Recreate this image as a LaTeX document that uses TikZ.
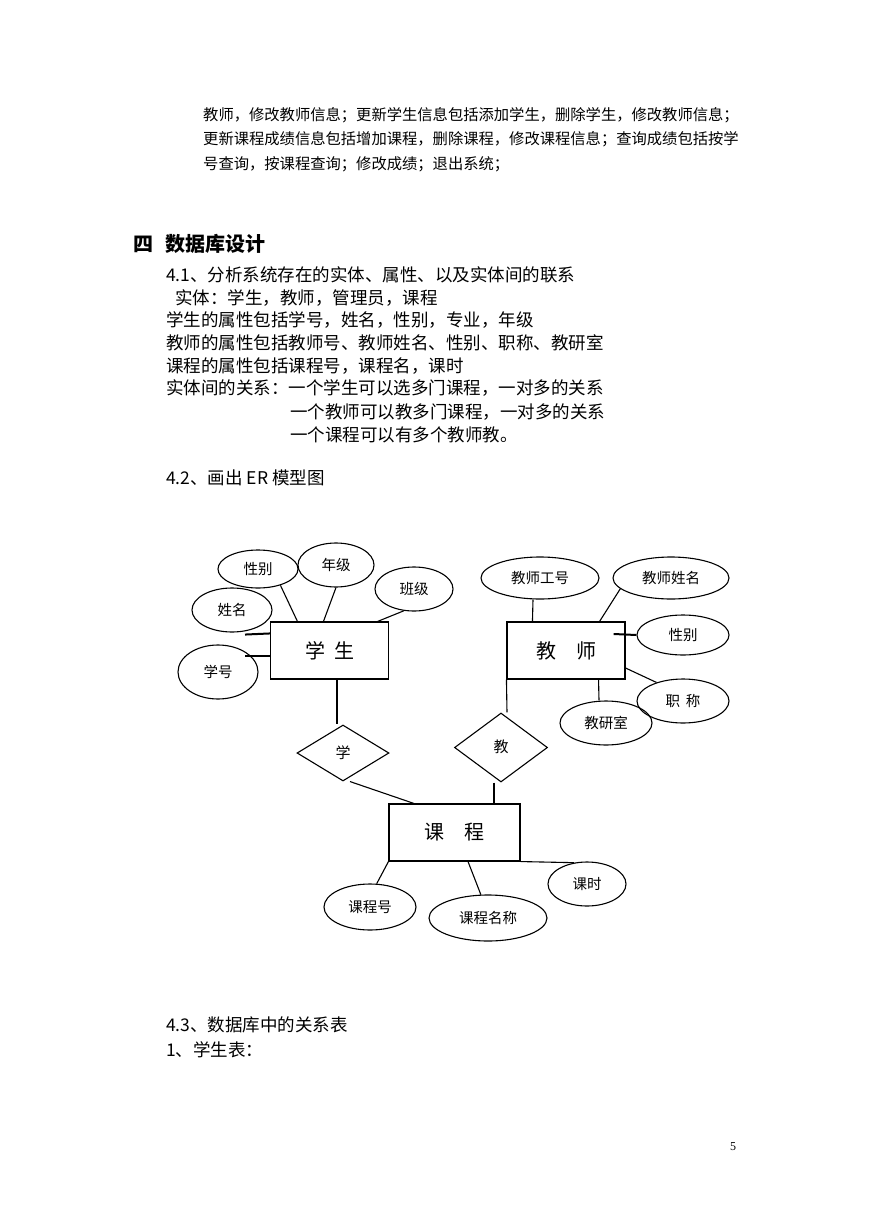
\documentclass[tikz,border=0pt]{standalone}
\usepackage{fontspec}
\setmainfont{Noto Sans CJK SC}
\newfontfamily\pagefont{Liberation Serif}
\usetikzlibrary{shapes.geometric}

\begin{document}
\begin{tikzpicture}[x=1pt,y=-1pt,
  para/.style={anchor=base west,inner sep=0pt,font=\fontsize{15.3}{18}\selectfont},
  body/.style={anchor=base west,inner sep=0pt,font=\fontsize{17.5}{21}\selectfont},
  ent/.style={draw,line width=1.1pt,minimum width=118pt,minimum height=57pt,inner sep=0pt,font=\fontsize{20}{24}\selectfont},
  attr/.style={draw,ellipse,line width=1.1pt,inner sep=0pt,font=\fontsize{14.5}{17}\selectfont},
  rel/.style={draw,diamond,line width=1.1pt,inner sep=0pt,font=\fontsize{15}{18}\selectfont},
  ln/.style={line width=1.1pt},
  thk/.style={line width=2pt}]
\path[fill=white] (0,0) rectangle (869,1228);

% text above the diagram
\node[para] (p1) at (203,121) {教师，修改教师信息；更新学生信息包括添加学生，删除学生，修改教师信息；};
\node[para] (p2) at (203,145) {更新课程成绩信息包括增加课程，删除课程，修改课程信息；查询成绩包括按学};
\node[para] (p3) at (203,169) {号查询，按课程查询；修改成绩；退出系统；};
\node[anchor=base west,inner sep=0pt,font=\fontsize{20}{24}\selectfont\bfseries] (sec) at (133,251) {四\hspace{12pt}数据库设计};
\node[body] (b1) at (166,281.6) {4.1、分析系统存在的实体、属性、以及实体间的联系};
\node[body] (b2) at (175,304.6) {实体：学生，教师，管理员，课程};
\node[body] (b3) at (166,326.6) {学生的属性包括学号，姓名，性别，专业，年级};
\node[body] (b4) at (166,349.6) {教师的属性包括教师号、教师姓名、性别、职称、教研室};
\node[body] (b5) at (166,372.6) {课程的属性包括课程号，课程名，课时};
\node[body] (b6) at (166,394.6) {实体间的关系：一个学生可以选多门课程，一对多的关系};
\node[body] (b7) at (290,418.6) {一个教师可以教多门课程，一对多的关系};
\node[body] (b8) at (290,441.6) {一个课程可以有多个教师教。};
\node[body] (b9) at (166,484.6) {4.2、画出 ER 模型图};

% entities
\node[ent] (stu) at (329.5,650.5) {学\hspace{9pt}生};
\node[ent] (tea) at (566,650.5) {教\hspace{20pt}师};
\node[ent,minimum width=131pt] (crs) at (454.5,832.5) {课\hspace{20pt}程};

% relations
\node[rel,minimum width=92pt,minimum height=56pt] (rLearn) at (343,753) {学};
\node[rel,minimum width=93pt,minimum height=69pt] (rTeach) at (501,747.5) {\raisebox{3pt}{教}};

% student attributes
\node[attr,minimum width=80pt,minimum height=38pt] (sGender) at (258,569) {性别};
\node[attr,minimum width=76pt,minimum height=44pt] (sGrade) at (336,565) {年级};
\node[attr,minimum width=78pt,minimum height=44pt] (sClass) at (414,589) {班级};
\node[attr,minimum width=80pt,minimum height=44pt] (sName) at (232,610) {姓名};
\node[attr,minimum width=80pt,minimum height=54pt] (sNo) at (218,672) {学号};

% teacher attributes
\node[attr,minimum width=118pt,minimum height=42pt] (tNo) at (540,578) {教师工号};
\node[attr,minimum width=116pt,minimum height=42pt] (tName) at (671,578) {教师姓名};
\node[attr,minimum width=92pt,minimum height=40pt] (tGender) at (683,635) {性别};
\node[attr,minimum width=92pt,minimum height=44pt] (tTitle) at (683,701) {职\hspace{6pt}称};
\node[attr,minimum width=92pt,minimum height=44pt] (tRoom) at (606,723) {教研室};

% course attributes
\node[attr,minimum width=92pt,minimum height=46pt] (cNo) at (370,907) {课程号};
\node[attr,minimum width=118pt,minimum height=46pt] (cName) at (488,918) {课程名称};
\node[attr,minimum width=78pt,minimum height=44pt] (cHour) at (587,884) {课时};

% connectors
\draw[ln] (sGender.-36) -- ([xshift=27.5pt]stu.north west);
\draw[ln] (sGrade.south) -- ([xshift=53.5pt]stu.north west);
\draw[ln] (sClass.-115) -- ([xshift=-11.5pt]stu.north east);
\draw[thk] ([xshift=13pt,yshift=-2pt]sName.south) -- ([yshift=-12pt]stu.north west);
\draw[ln] ([xshift=27pt,yshift=16pt]sNo.center) -- ([yshift=-5.5pt]stu.west);
\draw[ln] ([xshift=7.5pt]stu.south) -- ([xshift=-6pt]rLearn.north);
\draw[ln] ([xshift=7pt]rLearn.south) -- ([xshift=25.5pt]crs.north west);
\draw[ln] (tea.south west) -- ([xshift=6pt]rTeach.north);
\draw[ln] ([xshift=-7pt]rTeach.south) -- ([xshift=39.5pt]crs.north);
\draw[ln] ([xshift=-7pt]tNo.south) -- ([xshift=26pt]tea.north west);
\draw[ln] (tName.192) -- ([xshift=-26pt]tea.north east);
\draw[thk] ([xshift=-12pt,yshift=16.5pt]tea.east) -- (tGender.west);
\draw[ln] ([yshift=-17.5pt]tea.east) -- (tTitle.145);
\draw[ln] ([xshift=-27pt]tea.south east) -- ([xshift=-7pt]tRoom.north);
\draw[ln] (crs.south west) -- (cNo.74);
\draw[ln] ([xshift=13.5pt]crs.south) -- (cName.107);
\draw[ln] (crs.south east) -- (cHour.121);

% text below the diagram
\node[body] (c1) at (166,1031.6) {4.3、数据库中的关系表};
\node[body] (c2) at (166,1056.6) {1、学生表：};
\node[font=\pagefont\fontsize{12}{14}\selectfont,inner sep=0pt] (pg) at (733,1147) {5};
\end{tikzpicture}
\end{document}
